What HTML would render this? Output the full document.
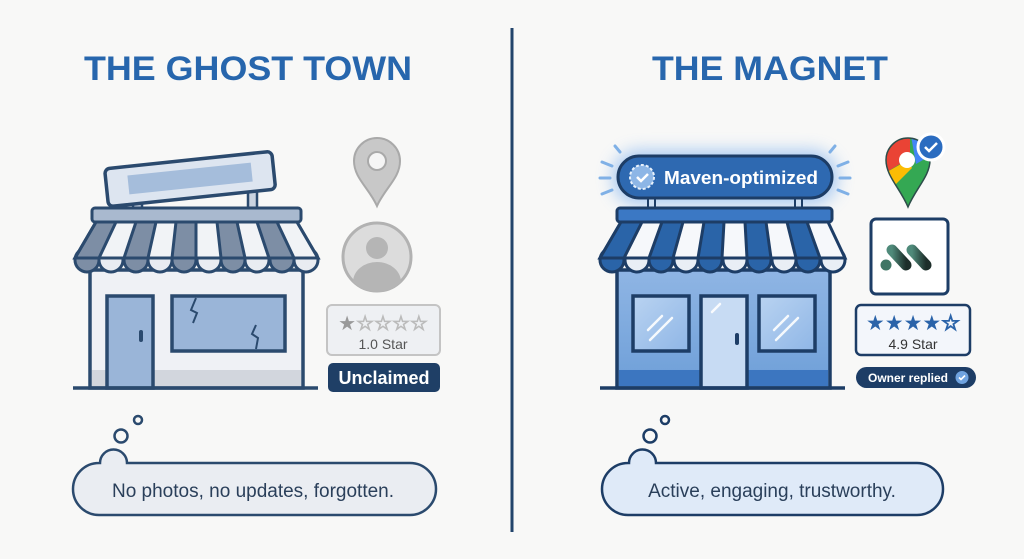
<!DOCTYPE html>
<html><head><meta charset="utf-8"><style>
html,body{margin:0;padding:0;background:#f8f8f7;}
svg{display:block;}
text{font-family:"Liberation Sans",sans-serif;}
</style></head><body>
<svg width="1024" height="559" viewBox="0 0 1024 559" xmlns="http://www.w3.org/2000/svg">
<defs>
<filter id="glow" x="-30%" y="-80%" width="160%" height="260%"><feGaussianBlur stdDeviation="8"/></filter>
<linearGradient id="bodyR" x1="0" y1="0" x2="0" y2="1"><stop offset="0" stop-color="#8fb5e4"/><stop offset="1" stop-color="#6e9fd8"/></linearGradient>
<linearGradient id="glass" x1="0" y1="0" x2="1" y2="1"><stop offset="0" stop-color="#b9d3f1"/><stop offset="1" stop-color="#8fb6e6"/></linearGradient>
<linearGradient id="mv" x1="0" y1="0" x2="1" y2="0"><stop offset="0" stop-color="#4f8a7a"/><stop offset="1" stop-color="#1d2e2a"/></linearGradient>
<clipPath id="pinclip"><path d="M908,138 a22,22 0 0 1 22,22 c0,16 -14,28 -22,47 c-8,-19 -22,-31 -22,-47 a22,22 0 0 1 22,-22z"/></clipPath>
</defs>
<rect width="1024" height="559" fill="#f8f8f7"/>
<line x1="512" y1="28" x2="512" y2="532" stroke="#22446b" stroke-width="3"/>

<text x="248" y="80" text-anchor="middle" font-size="34" font-weight="bold" fill="#2766ad" textLength="328" lengthAdjust="spacingAndGlyphs">THE GHOST TOWN</text>
<text x="770" y="80" text-anchor="middle" font-size="34" font-weight="bold" fill="#2766ad" textLength="236" lengthAdjust="spacingAndGlyphs">THE MAGNET</text>

<!-- LEFT STORE -->
<rect x="133" y="190" width="9" height="20" fill="#c9d3e0" stroke="#2b4a6e" stroke-width="2.5"/>
<rect x="248" y="186" width="9" height="24" fill="#c9d3e0" stroke="#2b4a6e" stroke-width="2.5"/>
<g transform="rotate(-6 190 178)">
<rect x="106" y="160" width="168" height="38" rx="5" fill="#dde5f0" stroke="#2b4a6e" stroke-width="3.5"/>
<rect x="128" y="169" width="124" height="19" fill="#a5bddb"/>
</g>
<rect x="90" y="270" width="213" height="118" fill="#eff1f5" stroke="#2b4a6e" stroke-width="3.5"/>
<rect x="92" y="370" width="209" height="16" fill="#d2d6dd"/>
<rect x="107" y="296" width="46" height="92" fill="#9ab5d8" stroke="#2b4a6e" stroke-width="3.5"/>
<rect x="139" y="330" width="4" height="12" rx="2" fill="#2b4a6e"/>
<rect x="172" y="296" width="113" height="55" fill="#9ab5d8" stroke="#2b4a6e" stroke-width="3.5"/>
<path d="M196,298 l-5,12 l6,3 l-4,10" fill="none" stroke="#2b4a6e" stroke-width="2"/>
<path d="M256,325 l-4,9 l6,4 l-2,11" fill="none" stroke="#2b4a6e" stroke-width="2"/>
<line x1="73" y1="388" x2="318" y2="388" stroke="#2b4a6e" stroke-width="3.5"/>
<g stroke="#2b4a6e" stroke-width="3">
<circle cx="87" cy="260" r="12" fill="#7d8ea5"/><circle cx="111" cy="260" r="12" fill="#e9ecf1"/><circle cx="136" cy="260" r="12" fill="#7d8ea5"/><circle cx="160" cy="260" r="12" fill="#e9ecf1"/><circle cx="184" cy="260" r="12" fill="#7d8ea5"/><circle cx="209" cy="260" r="12" fill="#e9ecf1"/><circle cx="233" cy="260" r="12" fill="#7d8ea5"/><circle cx="257" cy="260" r="12" fill="#e9ecf1"/><circle cx="282" cy="260" r="12" fill="#7d8ea5"/><circle cx="306" cy="260" r="12" fill="#e9ecf1"/>
<polygon points="96,222 297,222 318,258 75,258" fill="#f1f3f6"/>
<polygon points="96,222 116,222 99,258 75,258" fill="#7d8ea5"/>
<polygon points="136,222 156,222 148,258 124,258" fill="#7d8ea5"/>
<polygon points="176,222 196,222 196,258 172,258" fill="#7d8ea5"/>
<polygon points="217,222 237,222 245,258 221,258" fill="#7d8ea5"/>
<polygon points="257,222 277,222 294,258 269,258" fill="#7d8ea5"/>
<polygon points="96,222 297,222 318,258 75,258" fill="none"/>
<rect x="92" y="208" width="209" height="14" rx="3" fill="#a9b9cf"/>
</g>

<!-- left icons -->
<path d="M377,138 a23,23 0 0 1 23,23 c0,17 -15,27 -23,45 c-8,-18 -23,-28 -23,-45 a23,23 0 0 1 23,-23z" fill="#c8c8c8" stroke="#a9a9a9" stroke-width="2"/>
<circle cx="377" cy="161" r="9" fill="#f5f5f5" stroke="#a9a9a9" stroke-width="2"/>
<circle cx="377" cy="257" r="34" fill="#dcdcdc" stroke="#b2b2b2" stroke-width="3"/>
<circle cx="377" cy="248" r="11" fill="#b5b5b5"/>
<path d="M353,282 a24,20 0 0 1 48,0 a34,34 0 0 1 -48,0z" fill="#b5b5b5"/>
<rect x="327" y="305" width="113" height="50" rx="5" fill="#eef0f3" stroke="#c4c4c4" stroke-width="2"/>
<text x="383" y="330" text-anchor="middle" font-size="20" fill="#999"><tspan>★</tspan><tspan fill="#fff" stroke="#bbb" stroke-width="1">☆☆☆☆</tspan></text>
<text x="383" y="349" text-anchor="middle" font-size="14" fill="#555">1.0 Star</text>
<rect x="328" y="363" width="112" height="29" rx="5" fill="#1f3f66"/>
<text x="384" y="384" text-anchor="middle" font-size="18" font-weight="bold" fill="#fff">Unclaimed</text>

<!-- left bubble -->
<circle cx="138" cy="420" r="4" fill="none" stroke="#2b4a6e" stroke-width="2.5"/>
<circle cx="121" cy="436" r="6.5" fill="none" stroke="#2b4a6e" stroke-width="2.5"/>
<path d="M100,463 a13,13 0 0 1 27,0 L410,463 a26,26 0 0 1 0,52 L99,515 a26,26 0 0 1 0,-52z" fill="#eaedf2" stroke="#2b4a6e" stroke-width="2.5"/>
<text x="253" y="497" text-anchor="middle" font-size="19" fill="#2a3f5a">No photos, no updates, forgotten.</text>

<!-- RIGHT STORE -->
<rect x="612" y="150" width="226" height="55" rx="27" fill="#8ab8f0" opacity="0.7" filter="url(#glow)"/>
<g stroke="#7fb0e6" stroke-width="3" stroke-linecap="round">
<line x1="600" y1="178" x2="610" y2="178"/><line x1="602" y1="162" x2="612" y2="166"/><line x1="602" y1="194" x2="612" y2="190"/><line x1="615" y1="146" x2="620" y2="152"/>
<line x1="840" y1="178" x2="850" y2="178"/><line x1="838" y1="166" x2="848" y2="162"/><line x1="838" y1="190" x2="848" y2="194"/><line x1="830" y1="152" x2="835" y2="146"/>
</g>
<rect x="648" y="196" width="7" height="13" fill="#cfe0f4" stroke="#1d3d66" stroke-width="2"/>
<rect x="795" y="196" width="7" height="13" fill="#cfe0f4" stroke="#1d3d66" stroke-width="2"/>
<rect x="618" y="156" width="214" height="42" rx="21" fill="#2e69b1" stroke="#1d3d66" stroke-width="3"/>
<circle cx="642" cy="177" r="12" fill="#8db6e6" stroke="#e8f1fb" stroke-width="2" stroke-dasharray="3 2"/>
<path d="M637,177 l4,4 l7,-7" fill="none" stroke="#fff" stroke-width="2.5"/>
<text x="741" y="184" text-anchor="middle" font-size="18" font-weight="bold" fill="#fff" textLength="154" lengthAdjust="spacingAndGlyphs">Maven-optimized</text>

<rect x="617" y="270" width="213" height="118" fill="url(#bodyR)" stroke="#1d3d66" stroke-width="3.5"/>
<rect x="619" y="370" width="209" height="16" fill="#3c76c0"/>
<rect x="633" y="296" width="56" height="55" fill="url(#glass)" stroke="#1d3d66" stroke-width="3.5"/>
<rect x="759" y="296" width="56" height="55" fill="url(#glass)" stroke="#1d3d66" stroke-width="3.5"/>
<rect x="701" y="296" width="46" height="92" fill="#c7dbf3" stroke="#1d3d66" stroke-width="3.5"/>
<rect x="735" y="333" width="4" height="12" rx="2" fill="#1d3d66"/>
<g stroke="#fff" stroke-width="2.5" stroke-linecap="round" opacity="0.9">
<line x1="648" y1="330" x2="662" y2="316"/><line x1="650" y1="340" x2="672" y2="318"/>
<line x1="774" y1="330" x2="788" y2="316"/><line x1="776" y1="340" x2="798" y2="318"/>
<line x1="712" y1="312" x2="720" y2="304"/>
</g>
<line x1="600" y1="388" x2="845" y2="388" stroke="#1d3d66" stroke-width="3.5"/>
<g stroke="#1d3d66" stroke-width="3">
<circle cx="612" cy="260" r="12" fill="#2a64a8"/><circle cx="637" cy="260" r="12" fill="#e9eef5"/><circle cx="661" cy="260" r="12" fill="#2a64a8"/><circle cx="686" cy="260" r="12" fill="#e9eef5"/><circle cx="710" cy="260" r="12" fill="#2a64a8"/><circle cx="735" cy="260" r="12" fill="#e9eef5"/><circle cx="759" cy="260" r="12" fill="#2a64a8"/><circle cx="784" cy="260" r="12" fill="#e9eef5"/><circle cx="808" cy="260" r="12" fill="#2a64a8"/><circle cx="833" cy="260" r="12" fill="#e9eef5"/>
<polygon points="621,222 828,222 845,258 600,258" fill="#f6f8fb"/>
<polygon points="621,222 642,222 624,258 600,258" fill="#2a64a8"/>
<polygon points="662,222 683,222 673,258 649,258" fill="#2a64a8"/>
<polygon points="704,222 724,222 722,258 698,258" fill="#2a64a8"/>
<polygon points="745,222 766,222 771,258 747,258" fill="#2a64a8"/>
<polygon points="787,222 807,222 820,258 796,258" fill="#2a64a8"/>
<rect x="617" y="208" width="215" height="14" rx="3" fill="#3b78c4"/>
</g>

<!-- google pin -->
<g clip-path="url(#pinclip)">
<rect x="880" y="130" width="60" height="80" fill="#34a853"/>
<polygon points="880,130 910,130 910,158 880,176" fill="#ea4335"/>
<polygon points="910,130 940,130 940,150 916,164" fill="#4285f4"/>
<polygon points="880,176 908,160 912,168 880,200" fill="#fbbc04"/>
</g>
<path d="M908,138 a22,22 0 0 1 22,22 c0,16 -14,28 -22,47 c-8,-19 -22,-31 -22,-47 a22,22 0 0 1 22,-22z" fill="none" stroke="#2d4d4a" stroke-width="1.5"/>
<circle cx="907" cy="160" r="8" fill="#fff"/>
<circle cx="931" cy="147" r="13" fill="#2b6cc0" stroke="#fff" stroke-width="3"/>
<path d="M925,147 l4,4 l8,-8" fill="none" stroke="#fff" stroke-width="2.5"/>
<!-- maven -->
<rect x="871" y="219" width="77" height="75" rx="5" fill="#fff" stroke="#1d3d66" stroke-width="3"/>
<g stroke="url(#mv)" stroke-width="11" stroke-linecap="round" fill="none">
<line x1="892" y1="250" x2="906" y2="265"/>
<line x1="912" y1="250" x2="926" y2="265"/>
</g>
<circle cx="886" cy="265" r="5.5" fill="#3f7565"/>
<rect x="856" y="305" width="114" height="50" rx="5" fill="#f3f6fb" stroke="#1d3d66" stroke-width="2.5"/>
<text x="913" y="330" text-anchor="middle" font-size="21" fill="#2a63a9">★★★★<tspan fill="#fff" stroke="#2a63a9" stroke-width="1.2">☆</tspan></text>
<text x="913" y="349" text-anchor="middle" font-size="14" fill="#333">4.9 Star</text>
<rect x="856" y="367" width="120" height="21" rx="10.5" fill="#1d3d66"/>
<text x="908" y="382" text-anchor="middle" font-size="12" font-weight="bold" fill="#fff">Owner replied</text>
<circle cx="962" cy="377.5" r="6.5" fill="#6fa3e0"/>
<path d="M959,377.5 l2,2 l4,-4" fill="none" stroke="#fff" stroke-width="1.6"/>

<!-- right bubble -->
<circle cx="665" cy="420" r="4" fill="none" stroke="#1d3d66" stroke-width="2.5"/>
<circle cx="650" cy="436" r="6.5" fill="none" stroke="#1d3d66" stroke-width="2.5"/>
<path d="M629,463 a13,13 0 0 1 27,0 L917,463 a26,26 0 0 1 0,52 L628,515 a26,26 0 0 1 0,-52z" fill="#dfeaf8" stroke="#1d3d66" stroke-width="2.5"/>
<text x="772" y="497" text-anchor="middle" font-size="19" fill="#2a3f5a">Active, engaging, trustworthy.</text>
</svg>
</body></html>
